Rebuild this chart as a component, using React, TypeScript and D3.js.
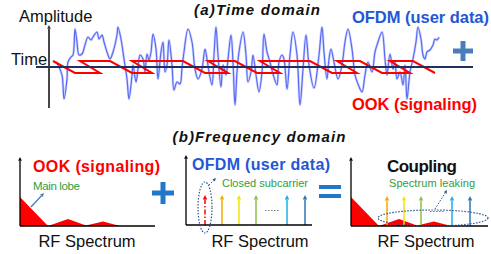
import React from 'react';
import * as d3 from 'd3';

const W = 491;
const H = 254;
const FONT = "'Liberation Sans', Arial, Helvetica, sans-serif";

/* ─── (a) time domain data ─── */
// OFDM user data waveform: time (px-ish units from axis start) and amplitude
const waveTime = [
  20, 22, 26, 28, 31, 32, 35, 37, 39, 41, 43, 46, 49, 52, 55, 57, 61, 63, 66, 68,
  71, 74, 77, 81, 82, 85, 88, 91, 93, 96, 97, 100, 102, 104, 107, 109, 111, 113, 115, 117,
  120, 122, 125, 127, 129, 131, 133, 136, 138, 141, 144, 146, 148, 152, 156, 159, 162, 166, 169, 171,
  173, 176, 178, 180, 182, 185, 187, 190, 192, 195, 197, 199, 201, 203, 207, 210, 212, 215, 217, 220,
  223, 226, 228, 231, 234, 237, 241, 243, 246, 248, 251, 254, 257, 261, 264, 267, 270, 273, 278, 283,
  286, 288, 291, 293, 295, 298, 302, 306, 309, 312, 316, 319, 322, 326, 329, 332, 336, 339, 342, 346,
  349, 351, 354, 357, 359, 361, 364, 367, 369, 371, 374, 377, 380, 382, 385, 387, 389, 391, 394, 397,
  399, 401, 403,
];
const waveAmp = [
  5, 2, -8, -32, -12, 5, 10, 12, 38, 25, 12, 13, 22, 30, 27, 30, 35, 28, 32, 25,
  15, 8, 15, 32, 40, 28, 8, -12, -32, -8, 2, -15, -2, 12, 8, -5, 13, 7, 15, 33,
  18, -12, 15, 25, -5, 2, 27, 2, -23, -15, -17, -1, 15, 38, 25, -2, -12, -2, 18, 8,
  -5, -18, 12, 40, 12, -20, 2, -8, 8, 32, 5, -38, -5, 15, 35, 12, -15, -5, 12, -8,
  -25, -5, 33, 15, 5, -7, -18, 5, 12, 8, -22, 12, 35, 12, -38, -2, 32, 2, -21, 12,
  40, 15, -12, 8, 18, 5, -12, 2, 25, 38, 18, -8, -17, -25, -8, 5, -5, 15, 25, 35,
  8, -8, 13, -2, 5, -12, -5, -18, 2, -32, -5, 8, 25, 40, 28, 12, 8, 15, 17, 22,
  28, 27, 30,
];

// OOK signaling: where each falling edge starts and where each low level ends
const ookFallStart = [17, 74, 147, 199, 274, 324, 377];
const ookLowEnd = [64, 116, 192, 244, 321, 374];
const ookEdge = 22; // edge duration
const ookLevels = { high: 6, low: -6 };

/* ─── (b) frequency domain data ─── */
const ookSpecFreq = [0, 28, 48, 66, 83, 100];
const ookSpecMag = [29, 0, 7, 0.5, 4.5, 0];

const subcarrierFreq = [36, 53, 70, 101, 119];
const subcarrierColor = ['#f5a800', '#f2e600', '#8cc04a', '#1aaeea', '#2e75b6'];
const subcarrierMag = 30;
const closedSubcarrierFreq = 19;

/* ─── scales for (a) ─── */
const xT = d3.scaleLinear().domain([0, 440]).range([36, 476]);
const yA = d3.scaleLinear().domain([-40, 40]).range([107, 27]);

function ookPoints(): [number, number][] {
  const pts: [number, number][] = [];
  ookFallStart.forEach((s, i) => {
    pts.push([s, ookLevels.high], [s + ookEdge, ookLevels.low]);
    if (i < ookLowEnd.length) {
      const e = ookLowEnd[i];
      pts.push([e, ookLevels.low], [e - ookEdge + 2, ookLevels.high]);
    }
  });
  return pts;
}

function Arrow({ x1, y1, x2, y2, color, width = 1.5, head = 4, dash }: any) {
  const ang = Math.atan2(y2 - y1, x2 - x1);
  const hl = head * 1.5;
  const bx = x2 - hl * Math.cos(ang);
  const by = y2 - hl * Math.sin(ang);
  const px = -Math.sin(ang) * head * 0.75;
  const py = Math.cos(ang) * head * 0.75;
  return (
    <g>
      <line x1={x1} y1={y1} x2={bx} y2={by} stroke={color} strokeWidth={width} strokeDasharray={dash} />
      <path d={`M${x2},${y2}L${bx + px},${by + py}L${bx - px},${by - py}Z`} fill={color} />
    </g>
  );
}

/* ─── one RF spectrum panel ─── */
function SpectrumPanel({ ox, oy, axisW, axisH, ook, carriers, closed, labelX }: any) {
  const x = d3.scaleLinear().domain([0, 100]).range([ox, ox + 100]);
  const y = d3.scaleLinear().domain([0, 30]).range([oy, oy - 30]);
  const area = d3.area<number>()
    .x((_, i) => x(ookSpecFreq[i]))
    .y0(oy)
    .y1(d => y(d));
  return (
    <g>
      {ook && <path d={area(ookSpecMag) || ''} fill="#ff0000" />}
      {closed && (
        <Arrow x1={x(closedSubcarrierFreq)} y1={oy} x2={x(closedSubcarrierFreq)} y2={y(subcarrierMag)}
          color="#ff0000" width={1.5} head={3} dash="5,2,1.5,2" />
      )}
      {carriers && subcarrierFreq.map((f, i) => (
        <Arrow key={f} x1={x(f)} y1={oy} x2={x(f)} y2={y(subcarrierMag)} color={subcarrierColor[i]} width={1.5} head={3} />
      ))}
      {carriers && (
        <text x={x(86)} y={y(14)} fontSize={9} fontFamily={FONT} fill="#222" textAnchor="middle" letterSpacing={0.5}>.....</text>
      )}
      <line x1={ox} y1={oy} x2={ox + axisW} y2={oy} stroke="#000" strokeWidth={1.5} />
      <Arrow x1={ox} y1={oy} x2={ox} y2={oy - axisH} color="#000" width={1.3} head={2.5} />
      <text x={labelX} y={247} fontSize={16.5} fontFamily={FONT} fill="#111" textAnchor="middle">RF Spectrum</text>
    </g>
  );
}

export default function App() {
  const wave = d3.line<number>()
    .x((_, i) => xT(waveTime[i]))
    .y(d => yA(d))
    .curve(d3.curveCatmullRom.alpha(0.5));
  const waveD = wave(waveAmp) || '';
  const ookD = d3.line<[number, number]>()
    .x(d => xT(d[0]))
    .y(d => yA(d[1]))(ookPoints()) || '';

  return (
    <div style={{ position: 'fixed', left: 0, top: 0, width: W, height: H, background: '#fff' }}>
      <svg width={W} height={H} style={{ display: 'block' }}>
        <rect width={W} height={H} fill="#fff" />

        {/* (a) Time domain */}
        <text x={257} y={15} fontSize={15} fontWeight="bold" fontStyle="italic" fontFamily={FONT}
          textAnchor="middle" textLength={126} fill="#111">(a)Time domain</text>
        <text x={19} y={22} fontSize={16.5} fontFamily={FONT} fill="#111">Amplitude</text>
        <text x={11} y={65} fontSize={16.5} fontFamily={FONT} fill="#111">Time</text>

        <path d={waveD} fill="none" stroke="#aab4ff" strokeWidth={2.6} strokeOpacity={0.55} />
        <path d={waveD} fill="none" stroke="#5a6af2" strokeWidth={1.2} />
        <path d={ookD} fill="none" stroke="#ff0000" strokeWidth={2} strokeLinejoin="miter" />

        <line x1={xT(0)} y1={yA(0)} x2={xT(437)} y2={yA(0)} stroke="#1f2f60" strokeWidth={2} />
        <Arrow x1={xT(13)} y1={yA(-41)} x2={xT(13)} y2={yA(42)} color="#333" width={1.8} head={2.5} />

        <text x={352} y={23} fontSize={16.5} fontWeight="bold" fontFamily={FONT} fill="#2457d6"
          textLength={137}>OFDM (user data)</text>
        <text x={352} y={110} fontSize={16.5} fontWeight="bold" fontFamily={FONT} fill="#ff0000"
          textLength={125}>OOK (signaling)</text>
        <g stroke="#4a7ebb" strokeWidth={5}>
          <line x1={453} y1={51} x2={473} y2={51} />
          <line x1={463} y1={41} x2={463} y2={61} />
        </g>

        {/* (b) Frequency domain */}
        <text x={259} y={142} fontSize={15} fontWeight="bold" fontStyle="italic" fontFamily={FONT}
          textAnchor="middle" textLength={173} fill="#111">(b)Frequency domain</text>

        {/* OOK panel */}
        <SpectrumPanel ox={20} oy={226} axisW={135} axisH={69} ook labelX={87} />
        <text x={33} y={172} fontSize={16} fontWeight="bold" fontFamily={FONT} fill="#ff0000"
          textLength={127}>OOK (signaling)</text>
        <text x={33} y={190} fontSize={11.5} fontFamily={FONT} fill="#2e9e3e" textLength={47}>Main lobe</text>
        <Arrow x1={31} y1={207} x2={44} y2={193} color="#4a7ebb" width={1.3} head={2.5} />

        {/* plus */}
        <g stroke="#1f78c8" strokeWidth={5}>
          <line x1={152} y1={193} x2={174} y2={193} />
          <line x1={163} y1={182} x2={163} y2={204} />
        </g>

        {/* OFDM panel */}
        <SpectrumPanel ox={186} oy={225} axisW={126} axisH={70} carriers closed labelX={260} />
        <text x={192} y={170} fontSize={16} fontWeight="bold" fontFamily={FONT} fill="#2457d6"
          textLength={138}>OFDM (user data)</text>
        <text x={222} y={187} fontSize={11} fontFamily={FONT} fill="#2e9e3e" textLength={86}>Closed subcarrier</text>
        <ellipse cx={205} cy={207.5} rx={7} ry={25.5} fill="none" stroke="#2f5597" strokeWidth={1.2} strokeDasharray="1.5,1.5" />
        <Arrow x1={209} y1={185} x2={216} y2={178} color="#2f5597" width={1} head={2.2} dash="1.5,1.5" />

        {/* equals */}
        <g stroke="#1f78c8" strokeWidth={4}>
          <line x1={319} y1={187} x2={341} y2={187} />
          <line x1={319} y1={196} x2={341} y2={196} />
        </g>

        {/* Coupling panel */}
        <SpectrumPanel ox={351} oy={226} axisW={137} axisH={69} ook carriers labelX={426} />
        <text x={387} y={172} fontSize={17} fontWeight="bold" fontFamily={FONT} fill="#111" textLength={70}>Coupling</text>
        <text x={389} y={187} fontSize={11} fontFamily={FONT} fill="#2e9e3e" textLength={86}>Spectrum leaking</text>
        <ellipse cx={433} cy={218} rx={55} ry={8} fill="none" stroke="#2f5597" strokeWidth={1.2} strokeDasharray="1.5,1.5" />
        <Arrow x1={435} y1={209} x2={447} y2={190} color="#2f5597" width={1} head={2.2} dash="1.5,1.5" />
      </svg>
    </div>
  );
}
